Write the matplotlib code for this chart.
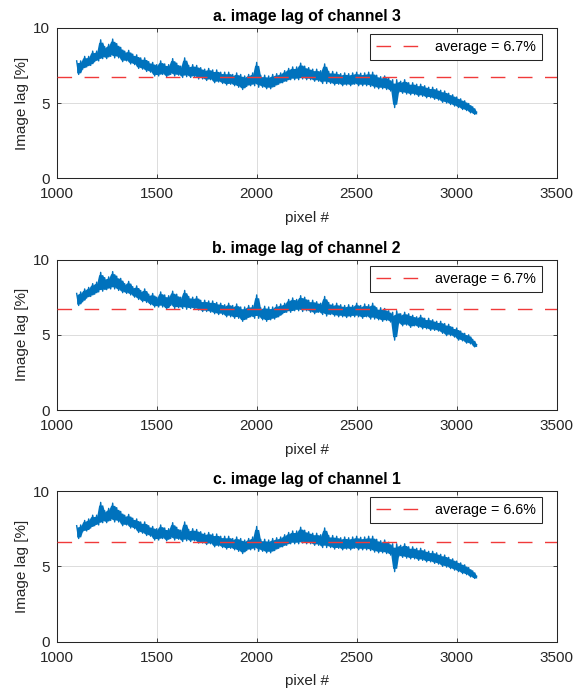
import matplotlib
matplotlib.use("Agg")
import numpy as np
import matplotlib.pyplot as plt

plt.rcParams['font.family'] = ['Liberation Sans', 'DejaVu Sans']
# keep every sample of the noisy trace
plt.rcParams['path.simplify'] = False

# image lag per pixel column, sampled every 10 pixels (1100 .. 3100)
pixel = np.arange(1100, 3101, 10)

lag_ch3 = [
    7.8, 6.9, 7.8, 7.25, 8.1, 7.4, 8.1, 7.5, 8.45, 7.75,
    8.45, 7.8, 9.2, 7.95, 8.75, 7.95, 8.9, 8.1, 9.25, 8.0,
    8.95, 8.0, 8.7, 7.75, 8.45, 7.8, 8.5, 7.6, 8.25, 7.55,
    8.2, 7.3, 8.0, 7.25, 8.0, 7.1, 7.75, 7.05, 7.7, 6.8,
    7.55, 6.8, 7.8, 6.9, 7.6, 6.75, 7.55, 6.9, 7.95, 6.8,
    7.65, 6.85, 7.45, 6.7, 8.0, 6.75, 7.5, 6.7, 7.55, 6.75,
    7.5, 6.6, 7.35, 6.6, 7.25, 6.5, 7.3, 6.55, 7.2, 6.35,
    7.2, 6.4, 7.05, 6.3, 7.05, 6.2, 7.05, 6.25, 6.9, 6.15,
    7.0, 6.05, 6.9, 5.9, 6.8, 6.1, 6.9, 6.15, 7.0, 6.15,
    7.7, 6.05, 6.85, 6.05, 6.85, 5.95, 6.8, 5.95, 6.9, 6.1,
    6.95, 6.25, 7.0, 6.35, 7.15, 6.45, 7.3, 6.55, 7.4, 6.55,
    7.4, 6.55, 7.65, 6.6, 7.45, 6.55, 7.35, 6.55, 7.25, 6.45,
    7.25, 6.45, 7.15, 6.3, 7.6, 6.3, 7.1, 6.3, 7.1, 6.2,
    7.05, 6.25, 6.95, 6.15, 7.0, 6.2, 6.95, 6.15, 7.0, 6.25,
    7.05, 6.15, 6.98, 6.15, 7.0, 6.15, 7.05, 6.1, 7.05, 6.0,
    6.85, 5.95, 6.75, 5.95, 6.8, 5.9, 6.65, 5.8, 6.55, 4.7,
    6.55, 5.7, 6.45, 5.65, 6.55, 5.6, 6.35, 5.55, 6.35, 5.55,
    6.25, 5.45, 6.25, 5.45, 6.15, 5.35, 6.05, 5.35, 6.05, 5.25,
    5.95, 5.2, 5.85, 5.05, 5.8, 5.0, 5.65, 4.9, 5.55, 4.8,
    5.4, 4.7, 5.28, 4.57, 5.15, 4.5, 4.97, 4.35, 4.75, 4.25,
    4.4,
]

lag_ch2 = [
    7.75, 6.95, 7.85, 7.2, 8.05, 7.45, 8.15, 7.55, 8.4, 7.7,
    8.5, 7.85, 9.15, 7.9, 8.8, 8.0, 8.85, 8.05, 9.2, 8.05,
    8.9, 7.95, 8.75, 7.8, 8.4, 7.75, 8.55, 7.65, 8.2, 7.5,
    8.25, 7.35, 7.95, 7.2, 8.05, 7.15, 7.7, 7.0, 7.75, 6.85,
    7.5, 6.85, 7.85, 6.85, 7.65, 6.7, 7.6, 6.95, 7.9, 6.75,
    7.7, 6.8, 7.5, 6.75, 7.95, 6.7, 7.55, 6.75, 7.5, 6.7,
    7.55, 6.65, 7.3, 6.55, 7.3, 6.55, 7.25, 6.5, 7.25, 6.4,
    7.15, 6.35, 7.1, 6.35, 7.0, 6.2, 7.1, 6.2, 6.95, 6.1,
    7.05, 6.1, 6.85, 5.9, 6.85, 6.05, 6.95, 6.2, 6.95, 6.1,
    7.65, 6.1, 6.8, 6.0, 6.9, 5.9, 6.85, 6.0, 6.85, 6.05,
    7.0, 6.2, 7.05, 6.4, 7.1, 6.5, 7.35, 6.5, 7.45, 6.6,
    7.35, 6.6, 7.6, 6.55, 7.5, 6.6, 7.3, 6.5, 7.3, 6.4,
    7.2, 6.5, 7.1, 6.35, 7.55, 6.25, 7.15, 6.35, 7.05, 6.25,
    7.1, 6.2, 7.0, 6.2, 6.95, 6.15, 7.0, 6.2, 6.95, 6.2,
    7.1, 6.2, 6.95, 6.1, 7.05, 6.2, 7.0, 6.05, 7.1, 6.05,
    6.8, 6.0, 6.8, 5.9, 6.75, 5.95, 6.6, 5.85, 6.5, 4.65,
    6.6, 5.75, 6.4, 5.6, 6.5, 5.65, 6.4, 5.5, 6.3, 5.6,
    6.2, 5.5, 6.3, 5.4, 6.1, 5.4, 6.1, 5.3, 6.0, 5.3,
    5.9, 5.25, 5.9, 5.1, 5.75, 4.95, 5.7, 4.95, 5.5, 4.85,
    5.45, 4.65, 5.25, 4.6, 5.1, 4.45, 5.0, 4.4, 4.7, 4.2,
    4.35,
]

lag_ch1 = [
    7.7, 6.85, 7.75, 7.3, 8.05, 7.35, 8.15, 7.55, 8.4, 7.7,
    8.4, 7.75, 9.25, 7.9, 8.7, 7.9, 8.85, 8.05, 9.2, 7.95,
    8.9, 7.95, 8.65, 7.7, 8.4, 7.75, 8.45, 7.55, 8.2, 7.5,
    8.15, 7.25, 7.95, 7.2, 7.95, 7.05, 7.7, 7.0, 7.65, 6.75,
    7.5, 6.75, 7.75, 6.85, 7.55, 6.7, 7.5, 6.85, 7.9, 6.75,
    7.6, 6.8, 7.4, 6.65, 7.95, 6.7, 7.45, 6.65, 7.5, 6.7,
    7.45, 6.55, 7.3, 6.55, 7.2, 6.45, 7.25, 6.5, 7.15, 6.3,
    7.15, 6.35, 7.0, 6.25, 7.0, 6.15, 7.0, 6.2, 6.85, 6.1,
    6.95, 6.0, 6.85, 5.85, 6.75, 6.05, 6.85, 6.1, 6.95, 6.1,
    7.65, 6.0, 6.8, 6.0, 6.8, 5.9, 6.75, 5.9, 6.85, 6.05,
    6.9, 6.2, 6.95, 6.3, 7.1, 6.4, 7.25, 6.5, 7.35, 6.5,
    7.35, 6.5, 7.6, 6.55, 7.4, 6.5, 7.3, 6.5, 7.2, 6.4,
    7.2, 6.4, 7.1, 6.25, 7.55, 6.25, 7.05, 6.25, 7.05, 6.15,
    7.0, 6.2, 6.9, 6.1, 6.95, 6.15, 6.9, 6.1, 6.95, 6.2,
    7.0, 6.1, 6.93, 6.1, 6.95, 6.1, 7.0, 6.05, 7.0, 5.95,
    6.8, 5.9, 6.7, 5.9, 6.75, 5.85, 6.6, 5.75, 6.5, 4.65,
    6.5, 5.65, 6.4, 5.6, 6.5, 5.55, 6.3, 5.5, 6.3, 5.5,
    6.2, 5.4, 6.2, 5.4, 6.1, 5.3, 6.0, 5.3, 6.0, 5.2,
    5.9, 5.15, 5.8, 5.0, 5.75, 4.95, 5.6, 4.85, 5.5, 4.75,
    5.35, 4.65, 5.23, 4.52, 5.1, 4.45, 4.92, 4.3, 4.7, 4.2,
    4.35,
]

channels = [lag_ch3, lag_ch2, lag_ch1]
averages = [6.7, 6.7, 6.6]
titles = ['a. image lag of channel 3',
          'b. image lag of channel 2',
          'c. image lag of channel 1']

LINE_BLUE = '#0072BD'
AVG_RED = '#F03A3A'
DARK = '#262626'


def noise_core(y, trim=0.12):
    # inner part of the min/max range around each sample; the zigzag line
    # sticks out of it, so the dense trace reads as a band with ragged edges
    y = np.asarray(y, dtype=float)
    pad = np.concatenate([[y[0]], y, [y[-1]]])
    lo = np.minimum(np.minimum(pad[:-2], pad[1:-1]), pad[2:])
    hi = np.maximum(np.maximum(pad[:-2], pad[1:-1]), pad[2:])
    spread = hi - lo
    return lo + trim * spread, hi - trim * spread


fig = plt.figure(figsize=(5.76, 6.94), dpi=100)
bottoms = [0.743, 0.409, 0.0754]

for lag, avg, title, b in zip(channels, averages, titles, bottoms):
    ax = fig.add_axes([0.0984, b, 0.868, 0.217])
    lo, hi = noise_core(lag)
    ax.fill_between(pixel, lo, hi, color=LINE_BLUE, lw=0, zorder=3)
    ax.plot(pixel, lag, color=LINE_BLUE, lw=1.0, zorder=3)
    ax.axhline(avg, color=AVG_RED, lw=1.0, dashes=(10.5, 9),
               label=f'average = {avg:.1f}%', zorder=4)

    ax.set_xlim(1000, 3500)
    ax.set_ylim(0, 10)
    ax.set_xticks(np.arange(1000, 3501, 500))
    ax.set_yticks([0, 5, 10])
    ax.grid(True, color='#dcdcdc', lw=0.7)
    ax.set_axisbelow(True)

    ax.tick_params(direction='in', length=3, width=0.6, colors=DARK,
                   labelsize=11, top=True, right=True)
    ax.tick_params(axis='x', pad=6.5)
    ax.tick_params(axis='y', pad=5)
    for s in ax.spines.values():
        s.set_color(DARK)
        s.set_linewidth(0.75)

    ax.set_title(title, fontsize=11.4, fontweight='bold', color='black', pad=5)
    ax.set_xlabel('pixel #', fontsize=11, color=DARK, labelpad=7)
    ax.set_ylabel('Image lag [%]', fontsize=11, color=DARK, labelpad=3)

    leg = ax.legend(loc='upper right', bbox_to_anchor=(0.971, 0.958),
                    borderaxespad=0, fancybox=False, framealpha=1,
                    edgecolor=DARK, fontsize=10.3, handlelength=3.3,
                    handletextpad=0.85, borderpad=0.42)
    leg.get_frame().set_linewidth(0.75)

fig.savefig('out.png', dpi=100)
